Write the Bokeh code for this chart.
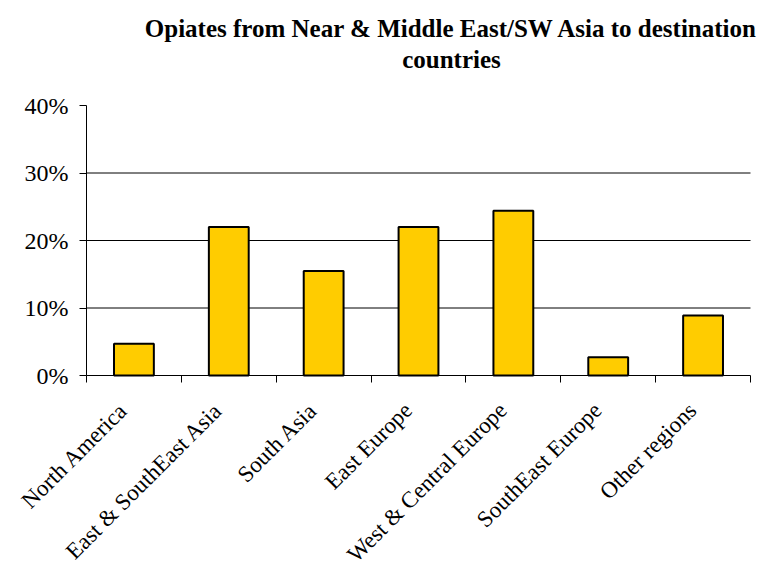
import math
import numpy as np
from bokeh.plotting import figure
from bokeh.models import Range1d, FixedTicker, PrintfTickFormatter, Label, ColumnDataSource
from bokeh.embed import file_html
from bokeh.resources import INLINE

# Share of opiates by destination region (percent)
regions = [
    "North America",
    "East & SouthEast Asia",
    "South Asia",
    "East Europe",
    "West & Central Europe",
    "SouthEast Europe",
    "Other regions",
]
shares = [4.7, 22.0, 15.5, 22.0, 24.4, 2.7, 8.9]
y_ticks = [0, 10, 20, 30, 40]
grid_ticks = [10, 20, 30]
title_lines = ["Opiates from Near & Middle East/SW Asia to destination", "countries"]

n = len(regions)
y_max = 40

# Page geometry (pixels)
W, H = 763, 571
left, right_axis_end, plot_bottom, plot_top = 86, 750, 375, 105
px_per_cat = (right_axis_end - left) / n
px_per_pct = (plot_bottom - plot_top) / y_max

centers = np.arange(n) + 0.5
bounds = list(np.arange(n + 1).astype(float))
label_pos = [round(float(c) - 0.11, 3) for c in centers]

src = ColumnDataSource(dict(x=centers, top=shares, region=regions))

# The frame fills the whole page so the heading and the slanted category
# names can sit inside it; both axes are pinned at 0 and bounded to the chart area.
p = figure(
    width=W, height=H,
    x_range=Range1d(-left / px_per_cat, n + (W - right_axis_end) / px_per_cat),
    y_range=Range1d(-(H - plot_bottom) / px_per_pct, plot_bottom / px_per_pct),
    output_backend="svg", toolbar_location=None,
    min_border_left=0, min_border_right=0, min_border_top=0, min_border_bottom=0,
)
p.outline_line_color = None
p.background_fill_color = "white"
p.border_fill_color = "white"
p.grid.visible = False

# Horizontal reference lines
p.segment(x0=0, x1=n, y0=grid_ticks, y1=grid_ticks, line_color="black", line_width=1)

p.vbar(x="x", top="top", width=0.42, bottom=0, source=src,
       fill_color="#FFCC00", line_color="black", line_width=2)

font = "Liberation Serif"

# Two-line heading
title_x = (451 - left) / px_per_cat
for txt, base_px in zip(title_lines, [28, 59]):
    p.add_layout(Label(
        x=title_x, y=(plot_bottom - base_px) / px_per_pct, text=txt,
        text_align="center", text_baseline="alphabetic",
        text_font=font, text_font_size="25px", text_font_style="bold",
        text_color="black",
    ))

# Y axis at the first category edge
ya = p.yaxis[0]
ya.fixed_location = 0
ya.bounds = (0, y_max)
ya.ticker = FixedTicker(ticks=y_ticks)
ya.formatter = PrintfTickFormatter(format="%d%%")
ya.major_label_text_font = font
ya.major_label_text_font_size = "24px"
ya.major_label_text_color = "black"
ya.major_tick_out = 7
ya.major_tick_in = 0
ya.minor_tick_out = 0
ya.minor_tick_in = 0
ya.major_label_standoff = 11
ya.axis_line_color = "black"
ya.major_tick_line_color = "black"

# X axis at 0 %: category names under the bars, tick marks between categories
xa = p.xaxis[0]
xa.fixed_location = 0
xa.bounds = (0, n)
xa.ticker = FixedTicker(ticks=label_pos, minor_ticks=bounds)
xa.major_label_overrides = {pos: r for pos, r in zip(label_pos, regions)}
xa.major_label_orientation = math.pi / 4
xa.major_label_text_font = font
xa.major_label_text_font_size = "23px"
xa.major_label_text_color = "black"
xa.major_tick_out = 0
xa.major_tick_in = 0
xa.minor_tick_out = 7
xa.minor_tick_in = 0
xa.minor_tick_line_color = "black"
xa.axis_line_color = "black"
xa.major_label_standoff = 24

open("out.html", "w").write(file_html(p, INLINE))
